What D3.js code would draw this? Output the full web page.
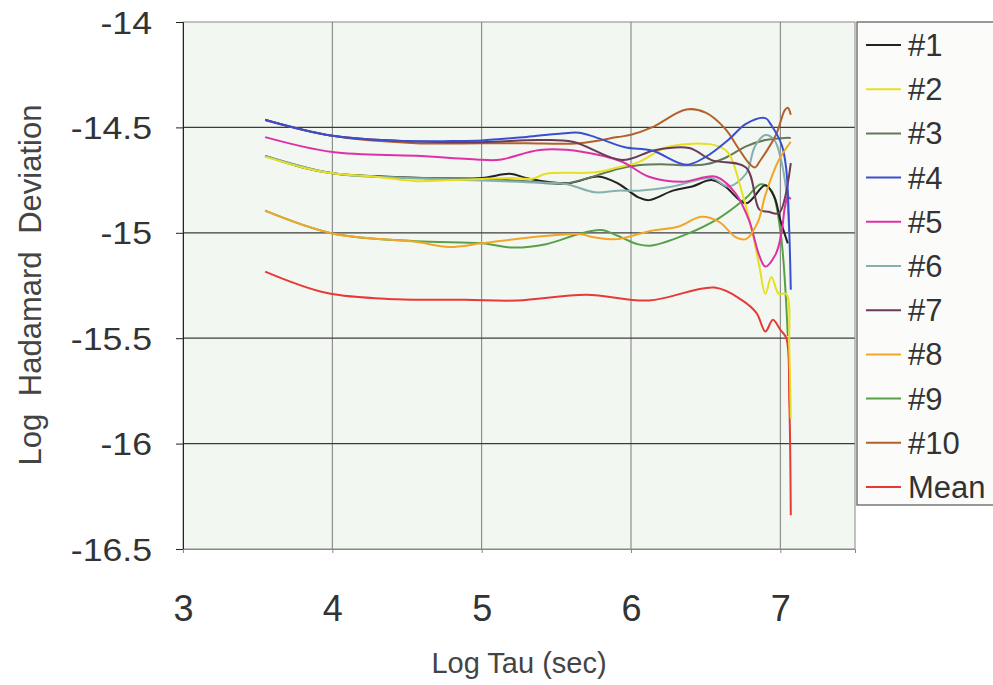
<!DOCTYPE html>
<html><head><meta charset="utf-8">
<script src="https://cdn.jsdelivr.net/npm/d3@7"></script>
<style>body{margin:0;background:#fff;}svg{display:block;font-family:"Liberation Sans",Arial,sans-serif;}</style>
</head><body><svg id="c" width="993" height="685"></svg>
<script>
// ---- data (log tau, log Hadamard deviation) ----
const seriesNames = ["#1","#2","#3","#4","#5","#6","#7","#8","#9","#10","Mean"];
const seriesColors = ["#222222","#e6e020","#66785a","#3a4fd0","#e030a8","#86b0ae","#6a3a58","#f2a628","#58a048","#b4602c","#e83838"];
const s1 = [[3.55,-14.635],[3.8,-14.69],[4.0,-14.717],[4.3,-14.732],[4.6,-14.74],[5.0,-14.74],[5.19,-14.72],[5.32,-14.744],[5.58,-14.765],[5.78,-14.733],[5.91,-14.765],[6.05,-14.832],[6.12,-14.845],[6.28,-14.8],[6.41,-14.78],[6.54,-14.75],[6.63,-14.78],[6.77,-14.86],[6.9,-14.774],[6.96,-14.83],[7.0,-14.94],[7.05,-15.05]];
const s2 = [[3.55,-14.64],[3.8,-14.69],[4.0,-14.718],[4.3,-14.735],[4.56,-14.755],[4.8,-14.75],[5.0,-14.745],[5.2,-14.74],[5.34,-14.744],[5.43,-14.72],[5.76,-14.713],[5.91,-14.69],[6.05,-14.665],[6.25,-14.592],[6.56,-14.584],[6.65,-14.62],[6.74,-14.8],[6.81,-14.99],[6.86,-15.16],[6.9,-15.29],[6.94,-15.21],[6.99,-15.29],[7.04,-15.29],[7.06,-15.55],[7.07,-15.88]];
const s3 = [[3.55,-14.635],[4.0,-14.717],[4.4,-14.735],[5.0,-14.745],[5.3,-14.755],[5.54,-14.768],[5.76,-14.73],[5.91,-14.697],[6.05,-14.68],[6.2,-14.675],[6.37,-14.68],[6.5,-14.675],[6.63,-14.645],[6.77,-14.59],[6.9,-14.56],[7.03,-14.55],[7.07,-14.55]];
const s4 = [[3.55,-14.465],[4.0,-14.54],[4.5,-14.565],[4.8,-14.565],[5.0,-14.562],[5.3,-14.545],[5.52,-14.53],[5.65,-14.525],[5.76,-14.546],[5.96,-14.594],[6.14,-14.61],[6.37,-14.677],[6.5,-14.64],[6.66,-14.554],[6.77,-14.483],[6.9,-14.456],[6.94,-14.49],[7.01,-14.585],[7.04,-14.7],[7.06,-15.0],[7.07,-15.27]];
const s5 = [[3.55,-14.546],[4.0,-14.617],[4.56,-14.635],[5.0,-14.654],[5.12,-14.654],[5.39,-14.607],[5.67,-14.615],[5.94,-14.663],[6.12,-14.734],[6.34,-14.758],[6.57,-14.734],[6.7,-14.813],[6.79,-14.94],[6.86,-15.11],[6.9,-15.16],[6.97,-15.1],[7.01,-14.99],[7.03,-14.88],[7.05,-14.83],[7.07,-14.84]];
const s6 = [[3.55,-14.635],[4.0,-14.717],[4.5,-14.74],[5.0,-14.752],[5.3,-14.76],[5.56,-14.768],[5.76,-14.808],[5.91,-14.8],[6.05,-14.8],[6.28,-14.78],[6.54,-14.74],[6.65,-14.78],[6.77,-14.72],[6.83,-14.59],[6.9,-14.536],[6.96,-14.56],[7.0,-14.64],[7.04,-14.8],[7.06,-15.0]];
const s7 = [[3.55,-14.463],[4.0,-14.54],[4.56,-14.567],[5.0,-14.57],[5.39,-14.56],[5.61,-14.568],[5.94,-14.655],[6.16,-14.608],[6.39,-14.598],[6.54,-14.655],[6.77,-14.69],[6.86,-14.89],[6.92,-14.9],[6.99,-14.907],[7.07,-14.67]];
const s8 = [[3.55,-14.895],[4.0,-15.003],[4.56,-15.043],[4.78,-15.067],[5.0,-15.05],[5.32,-15.022],[5.65,-15.006],[5.76,-15.022],[5.91,-15.03],[6.05,-15.006],[6.14,-14.99],[6.32,-14.97],[6.47,-14.924],[6.59,-14.948],[6.7,-15.02],[6.77,-15.03],[6.85,-14.948],[6.9,-14.82],[6.99,-14.655],[7.07,-14.568]];
const s9 = [[3.55,-14.895],[4.0,-15.003],[4.56,-15.04],[5.0,-15.05],[5.21,-15.07],[5.43,-15.054],[5.65,-15.006],[5.8,-14.987],[5.91,-15.014],[6.05,-15.055],[6.14,-15.06],[6.36,-15.01],[6.59,-14.93],[6.77,-14.835],[6.87,-14.77],[6.94,-14.8],[7.0,-14.99],[7.05,-15.49]];
const s10 = [[3.55,-14.465],[4.0,-14.54],[4.56,-14.575],[5.0,-14.575],[5.3,-14.575],[5.65,-14.575],[5.91,-14.546],[6.0,-14.535],[6.14,-14.5],[6.37,-14.415],[6.5,-14.43],[6.63,-14.506],[6.72,-14.6],[6.79,-14.67],[6.83,-14.69],[6.86,-14.663],[6.97,-14.536],[7.03,-14.418],[7.05,-14.407],[7.07,-14.44]];
const sMean = [[3.55,-15.184],[3.965,-15.286],[4.43,-15.315],[4.89,-15.318],[5.24,-15.321],[5.7,-15.294],[6.12,-15.321],[6.56,-15.26],[6.74,-15.318],[6.84,-15.38],[6.9,-15.468],[6.95,-15.413],[7.0,-15.46],[7.04,-15.5],[7.06,-15.8],[7.07,-16.34]];
const xTicks = [3,4,5,6,7];
const yTicks = [-14,-14.5,-15,-15.5,-16,-16.5];
const seriesData = [s1,s2,s3,s4,s5,s6,s7,s8,s9,s10,sMean];

// ---- drawing ----
const svg = d3.select("#c");
const L=183,T=22,R=855,B=549;
const x = d3.scaleLinear().domain([3,7.5]).range([L,R]);
const y = d3.scaleLinear().domain([-16.5,-14]).range([B,T]);

svg.append("rect").attr("x",L).attr("y",T).attr("width",R-L).attr("height",B-T).attr("fill","#f2f8f1");

// gridlines
svg.append("g").selectAll("line").data(xTicks.filter(d=>d>3)).join("line")
  .attr("x1",d=>x(d)).attr("x2",d=>x(d)).attr("y1",T).attr("y2",B)
  .attr("stroke","#7a7a7a").attr("stroke-width",1);
svg.append("g").selectAll("line").data(yTicks.filter(d=>d>-16.5&&d<-14)).join("line")
  .attr("x1",L).attr("x2",R).attr("y1",d=>y(d)).attr("y2",d=>y(d))
  .attr("stroke","#3c3c3c").attr("stroke-width",1.2);
// border
svg.append("rect").attr("x",L).attr("y",T).attr("width",R-L).attr("height",B-T)
  .attr("fill","none").attr("stroke","#888").attr("stroke-width",1);

// axes
const yAxis = d3.axisLeft(y).tickValues(yTicks).tickSize(7).tickFormat(d=>String(d));
const gy = svg.append("g").attr("transform",`translate(${L},0)`).call(yAxis);
gy.select(".domain").attr("stroke","#222");
gy.selectAll(".tick line").attr("stroke","#222");
gy.selectAll("text").attr("font-size",31).attr("fill","#333").attr("x",-31/1.15).attr("dy","0.36em")
  .attr("transform","scale(1.15,1)")
  .attr("font-family","'Liberation Sans',Arial,sans-serif");
const xAxis = d3.axisBottom(x).tickValues(xTicks).tickSize(4).tickFormat(d3.format("d"));
const gx = svg.append("g").attr("transform",`translate(0,${B})`).call(xAxis);
gx.select(".domain").attr("stroke","#888");
gx.selectAll(".tick line").attr("stroke","#888");
gx.selectAll("text").attr("font-size",36).attr("fill","#333").attr("y",72).attr("dy",0)
  .attr("font-family","'Liberation Sans',Arial,sans-serif");

// titles
svg.append("text").attr("x",519).attr("y",673).attr("text-anchor","middle")
  .attr("font-size",29).attr("fill","#444").text("Log Tau (sec)");
svg.append("text").attr("transform","translate(41,285) rotate(-90)").attr("text-anchor","middle")
  .attr("font-size",31).attr("fill","#444").attr("word-spacing",9).text("Log Hadamard Deviation");

// lines
const line = d3.line().x(d=>x(d[0])).y(d=>y(d[1])).curve(d3.curveCatmullRom.alpha(0.5));
svg.append("clipPath").attr("id","pc").append("rect").attr("x",L).attr("y",T).attr("width",R-L).attr("height",B-T);
const order = [10,8,0,2,5,1,9,4,6,3,7];
svg.append("g").attr("clip-path","url(#pc)").selectAll("path").data(order).join("path")
  .attr("d",i=>line(seriesData[i])).attr("fill","none")
  .attr("stroke",i=>seriesColors[i]).attr("stroke-width",2).attr("stroke-linejoin","round");

// legend
const lg = svg.append("g");
lg.append("rect").attr("x",857).attr("y",22).attr("width",150).attr("height",483)
  .attr("fill","#fbfcfa").attr("stroke","#555").attr("stroke-width",1.2);
const ly = d3.scaleLinear().domain([0,10]).range([45,487]);
const items = lg.selectAll("g").data(seriesNames).join("g")
  .attr("transform",(d,i)=>`translate(0,${ly(i)})`);
items.append("line").attr("x1",866).attr("x2",901).attr("y1",0).attr("y2",0)
  .attr("stroke",(d,i)=>seriesColors[i]).attr("stroke-width",2);
items.append("text").attr("x",908).attr("y",11).attr("font-size",31).attr("fill","#333").text(d=>d);
</script></body></html>
